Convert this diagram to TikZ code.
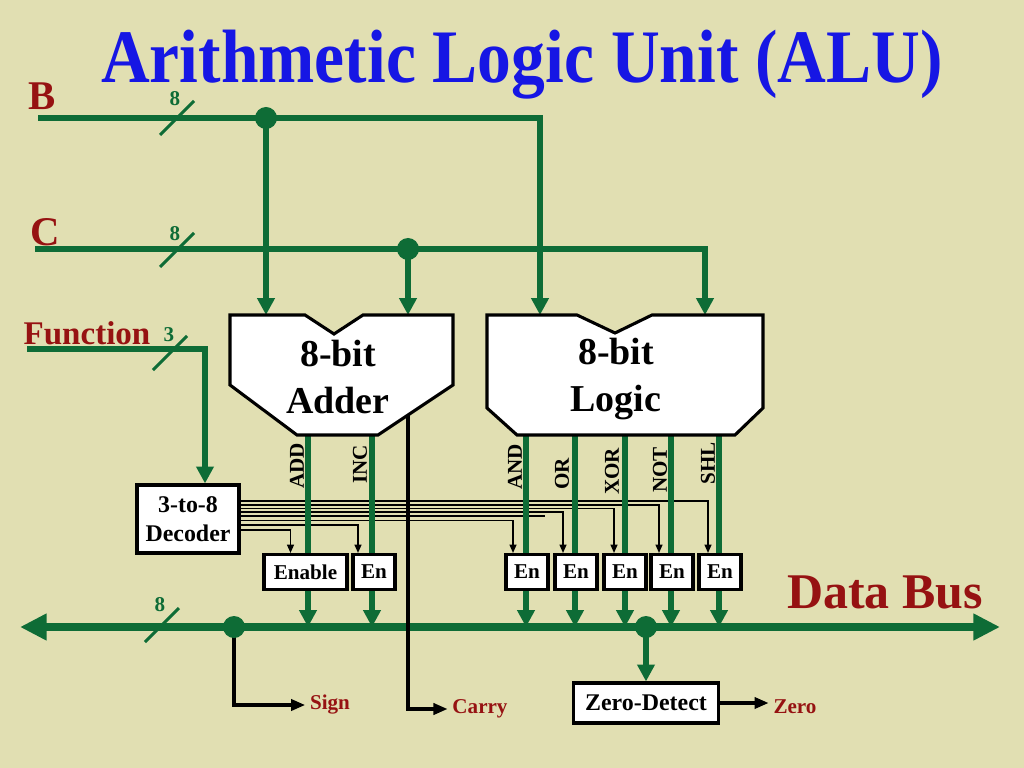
\documentclass[tikz,border=0pt]{standalone}
\usepackage{graphicx}
\usepackage{fontspec}
\setmainfont{Liberation Serif}
\usepackage{tikz}
\usetikzlibrary{arrows.meta, calc, positioning}
\definecolor{slidebg}{RGB}{225,223,178}
\definecolor{wiregreen}{RGB}{14,108,54}
\definecolor{labelred}{RGB}{150,18,18}
\definecolor{titleblue}{RGB}{22,22,228}
\pgfdeclarelayer{paper}
\pgfdeclarelayer{ctrl}
\pgfdeclarelayer{wires}
\pgfsetlayers{paper,ctrl,wires,main}

\begin{document}
\begin{tikzpicture}[
x=0.025cm, y=-0.025cm,
texts/.style = {text=black, font=\bfseries},
titletext/.style = {text=titleblue, font=\bfseries\fontsize{48}{50}\selectfont, inner sep=0},
portlabel/.style = {text=labelred, font=\bfseries\fontsize{29}{32}\selectfont, inner sep=0, anchor=base},
flaglabel/.style = {text=labelred, font=\bfseries\fontsize{15}{17}\selectfont},
widthlabel/.style = {text=wiregreen, font=\bfseries\fontsize{15}{17}\selectfont, inner sep=0},
oplabel/.style = {texts, font=\bfseries\fontsize{15}{17}\selectfont, inner sep=0, rotate=90, anchor=west},
unittext/.style = {texts, align=center, font=\bfseries\fontsize{27}{34}\selectfont},
unitline/.style = {draw=black, fill=white, line width=2.2pt},
boxnode/.style = {draw=black, fill=white, line width=2.2pt, texts, inner sep=0, font=\bfseries\fontsize{15}{17}\selectfont},
ennode/.style = {boxnode, minimum width=1.05cm, minimum height=0.875cm},
wire/.style = {draw=wiregreen, line width=4.2pt},
wirearrow/.style = {wire, -{Triangle[length=12pt, width=12pt]}},
busline/.style = {draw=wiregreen, line width=5pt, {Triangle[length=19pt, width=18pt]}-{Triangle[length=19pt, width=18pt]}},
widthmark/.style = {draw=wiregreen, line width=2.2pt},
joint/.style = {circle, fill=wiregreen, inner sep=0, minimum size=0.55cm},
ctrlline/.style = {draw=black, line width=1pt},
ctrlarrow/.style = {ctrlline, -{Triangle[length=6pt, width=5pt]}},
flagarrow/.style = {draw=black, line width=2.2pt, -{Triangle[length=10pt, width=8pt]}}
]
\begin{pgfonlayer}{paper}
\fill[slidebg] (0,0) rectangle (1024,768);
\end{pgfonlayer}
\useasboundingbox (0,0) rectangle (1024,768);

\node[titletext, anchor=base] (title) at (522,83) {\scalebox{1}[1.12]{Arithmetic Logic Unit (ALU)}};

% inputs
\node[portlabel] (blabel) at (42,110) {B};
\node[portlabel] (clabel) at (45,245) {C};
\node[portlabel, font=\bfseries\fontsize{23.5}{26}\selectfont] (flabel) at (87,344) {Function};
\coordinate (bstart) at (38,118);
\coordinate (cstart) at (35,249);
\coordinate (fstart) at (27,349);
\coordinate (fturn) at (205,349);
\node[joint] (bdot) at (266,118) {};
\node[joint] (cdot) at (408,249) {};

% adder and logic units
\draw[unitline] (230,315) -- (305,315) -- (334,334) -- (363,315) -- (453,315) -- (453,385) -- (378,435) -- (297,435) -- (230,385) -- cycle;
\node[unittext] (adder) at (338,377) {8-bit\\Adder};
\draw[unitline] (487,315) -- (577,315) -- (615,333) -- (652,315) -- (763,315) -- (763,408) -- (735,435) -- (517,435) -- (487,408) -- cycle;
\node[unittext] (logic) at (616,379) {8-bit\\Logic};
\coordinate (addb) at (266,315);
\coordinate (addc) at (408,315);
\coordinate (logb) at (540,315);
\coordinate (logc) at (705,315);
\coordinate (carryout) at (408,415);

% outputs of the units
\coordinate (addout) at (308,435);
\coordinate (incout) at (372,435);
\coordinate (andout) at (526,435);
\coordinate (orout) at (575,435);
\coordinate (xorout) at (625,435);
\coordinate (notout) at (671,435);
\coordinate (shlout) at (719,435);
\node[oplabel] (addname) at (297,489) {ADD};
\node[oplabel] (incname) at (360,484) {INC};
\node[oplabel] (andname) at (515,490) {AND};
\node[oplabel] (orname) at (562,490) {OR};
\node[oplabel] (xorname) at (612,495) {XOR};
\node[oplabel] (notname) at (660,493) {NOT};
\node[oplabel] (shlname) at (708,485) {SHL};

% decoder and enables
\node[boxnode, align=center, minimum width=2.55cm, minimum height=1.7cm, font=\bfseries\fontsize{17}{21}\selectfont] (decoder) at (188,519) {3-to-8\\Decoder};
\node[boxnode, minimum width=2.075cm, minimum height=0.875cm] (enadd) at (305.5,572) {Enable};
\node[ennode] (eninc) at (374,572) {En};
\node[ennode] (enand) at (527,572) {En};
\node[ennode] (enor) at (576,572) {En};
\node[ennode] (enxor) at (625,572) {En};
\node[ennode] (ennot) at (672,572) {En};
\node[ennode] (enshl) at (720,572) {En};
\coordinate (spare) at (545,516);

% data bus
\coordinate (busW) at (20,627);
\coordinate (busE) at (1000,627);
\node[joint] (signdot) at (234,627) {};
\node[joint] (zerodot) at (646,627) {};
\node[boxnode, minimum width=3.625cm, minimum height=1cm, font=\bfseries\fontsize{17}{20}\selectfont] (zerodetect) at (646,703) {Zero-Detect};
\node[portlabel, font=\bfseries\fontsize{35.5}{38}\selectfont] (buslabel) at (885,608) {Data Bus};
\node[flaglabel] (signlabel) at (330,705) {Sign};
\node[flaglabel] (carrylabel) at (480,709) {Carry};
\node[flaglabel] (zerolabel) at (795,707) {Zero};

\begin{pgfonlayer}{ctrl}
\draw[ctrlarrow] (decoder.east |- 0,530) -| ($(enadd.north)+(-15,0)$);
\draw[ctrlarrow] (decoder.east |- 0,525) -| ($(eninc.north)+(-16,0)$);
\draw[ctrlarrow] (decoder.east |- 0,520.5) -| ($(enand.north)+(-14,0)$);
\draw[ctrlline] (decoder.east |- 0,516) -- (spare);
\draw[ctrlarrow] (decoder.east |- 0,512) -| ($(enor.north)+(-13,0)$);
\draw[ctrlarrow] (decoder.east |- 0,508.5) -| ($(enxor.north)+(-11,0)$);
\draw[ctrlarrow] (decoder.east |- 0,505) -| ($(ennot.north)+(-13,0)$);
\draw[ctrlarrow] (decoder.east |- 0,501) -| ($(enshl.north)+(-12,0)$);
\end{pgfonlayer}

\begin{pgfonlayer}{wires}
\draw[wirearrow] (bstart) -| (logb);
\draw[wirearrow] (bdot.center) -- (addb);
\draw[wirearrow] (cstart) -| (logc);
\draw[wirearrow] (cdot.center) -- (addc);
\draw[wirearrow] (fstart) -- (fturn) -- (fturn |- decoder.north);
\draw[wirearrow] (addout) -- (addout |- busW);
\draw[wirearrow] (incout) -- (incout |- busW);
\draw[wirearrow] (andout) -- (andout |- busW);
\draw[wirearrow] (orout) -- (orout |- busW);
\draw[wirearrow] (xorout) -- (xorout |- busW);
\draw[wirearrow] (notout) -- (notout |- busW);
\draw[wirearrow] (shlout) -- (shlout |- busW);
\draw[busline] (busW) -- (busE);
\draw[wirearrow] (zerodot.center) -- (zerodetect.north);
\draw[flagarrow] (carryout) |- (carrylabel.west);
\draw[flagarrow] (signdot.center) |- (signlabel.west);
\end{pgfonlayer}
\draw[flagarrow] (zerodetect.east) -- (zerodetect.east -| zerolabel.west);

% bus widths
\coordinate (bslash) at (177,118);
\coordinate (cslash) at (177,250);
\coordinate (fslash) at (170,353);
\coordinate (busslash) at (162,625);
\draw[widthmark] ($(bslash)+(-17,17)$) -- ($(bslash)+(17,-17)$);
\draw[widthmark] ($(cslash)+(-17,17)$) -- ($(cslash)+(17,-17)$);
\draw[widthmark] ($(fslash)+(-17,17)$) -- ($(fslash)+(17,-17)$);
\draw[widthmark] ($(busslash)+(-17,17)$) -- ($(busslash)+(17,-17)$);
\node[widthlabel] (bwidth) at (175,99) {8};
\node[widthlabel] (cwidth) at (175,234) {8};
\node[widthlabel] (fwidth) at (169,335) {3};
\node[widthlabel] (buswidth) at (160,605) {8};
\end{tikzpicture}
\end{document}
